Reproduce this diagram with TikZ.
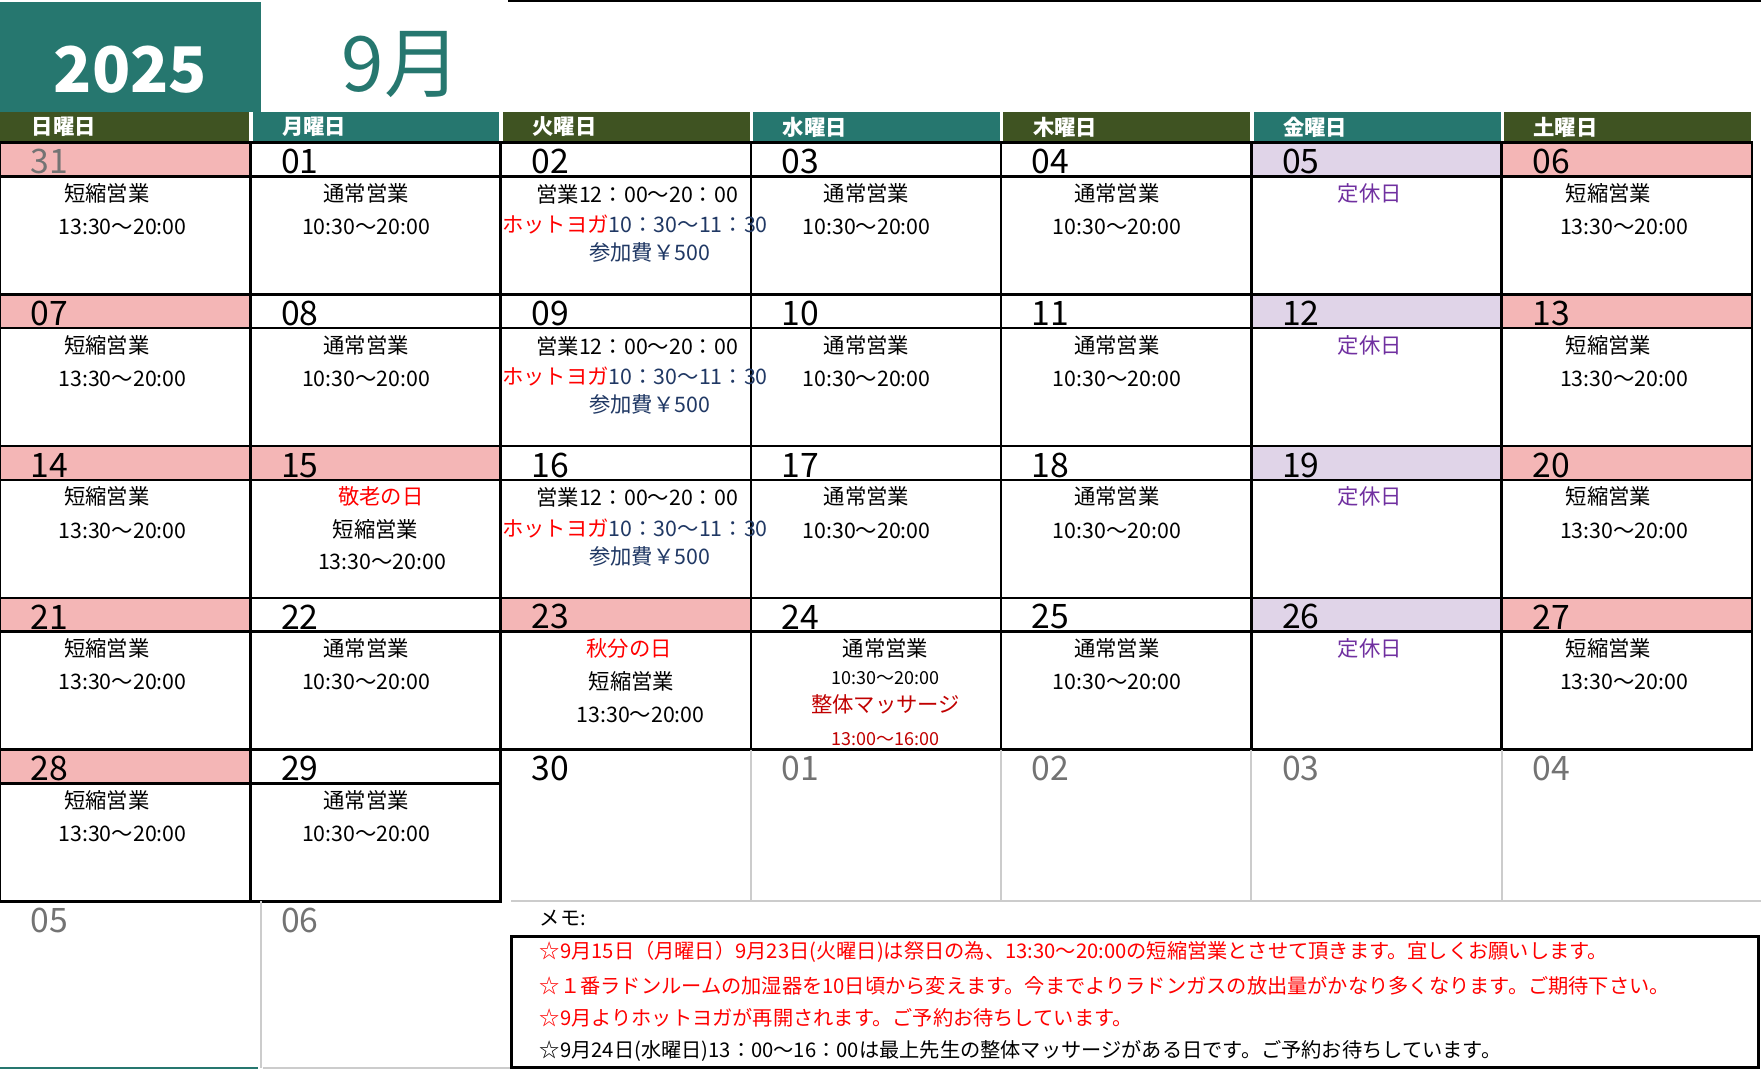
\documentclass[tikz,border=0pt]{standalone}
\usepackage{fontspec}
\setmainfont{Noto Sans CJK JP}
\usetikzlibrary{positioning}
\definecolor{teal}{HTML}{26776F}
\definecolor{olive}{HTML}{3F5322}
\definecolor{holpink}{HTML}{F4B6B6}
\definecolor{offlav}{HTML}{E0D4E8}
\definecolor{navy}{HTML}{203864}
\definecolor{offpur}{HTML}{7030A0}
\definecolor{dred}{HTML}{C00000}

\begin{document}
\begin{tikzpicture}[x=0.5pt,y=-0.5pt,
	grid/.style={draw=black,line width=1.1pt},
	soft/.style={draw=black!20,line width=0.8pt},
	daynum/.style={anchor=west,font=\fontsize{15}{15}\selectfont,inner sep=0pt},
	outnum/.style={daynum,text=black!55},
	body/.style={font=\fontsize{9.5}{10}\selectfont,inner sep=0pt},
	wday/.style={anchor=west,text=white,font=\fontsize{9.5}{10}\selectfont\bfseries,inner sep=0pt},
	memo/.style={anchor=west,font=\fontsize{9}{10}\selectfont,inner sep=0pt,text=red}]

	\useasboundingbox (0,0) rectangle (1567,953);

	% title
	\fill[teal] (0,2) rectangle (232,100);
	\node (year) [text=white,font=\fontsize{28}{28}\selectfont\bfseries] at (116,62) {2025};
	\node (month) [text=teal,font=\fontsize{34}{34}\selectfont] at (357,57) {9月};
	\draw[line width=1.2pt] (452,1) -- (1567,1);

	% weekday header
	\foreach \c/\wdname/\col in {0/日曜日/olive,1/月曜日/teal,2/火曜日/olive,3/水曜日/teal,4/木曜日/olive,5/金曜日/teal,6/土曜日/olive}{
		\fill[\col] ({\c*222.7+(\c>0?2:0)},100) rectangle ({(\c+1)*222.7-1},126);
		\node[wday] (wd\c) at ({\c*222.7+28},113) {\wdname};
	}

	% colored number bands
	\foreach \c/\r/\col in {0/0/holpink,0/1/holpink,0/2/holpink,0/3/holpink,0/4/holpink,
		6/0/holpink,6/1/holpink,6/2/holpink,6/3/holpink,1/2/holpink,2/3/holpink,
		5/0/offlav,5/1/offlav,5/2/offlav,5/3/offlav}
		\fill[\col] ({\c*222.7},{127+\r*135}) rectangle ({(\c+1)*222.7},{157+\r*135});

	% grid
	\foreach \r in {0,...,3}
		\foreach \c in {0,...,6}{
			\draw[grid] ({\c*222.7},{127+\r*135}) rectangle ({(\c+1)*222.7},{262+\r*135});
			\draw[grid] ({\c*222.7},{157+\r*135}) -- ({(\c+1)*222.7},{157+\r*135});
		}
	\foreach \c in {0,1}{
		\draw[grid] ({\c*222.7},667) rectangle ({(\c+1)*222.7},802);
		\draw[grid] ({\c*222.7},697) -- ({(\c+1)*222.7},697);
	}
	\foreach \c in {3,...,6}
		\draw[soft] ({\c*222.7},667) -- ({\c*222.7},802);
	\draw[soft] (455,802) -- (1567,802);
	\draw[soft] (232,802) -- (232,950);
	\draw[teal,line width=1pt] (0,950) -- (230,950);
	\draw[soft] (234,950) -- (455,950);

	% day numbers
	\foreach \n [count=\i from 0] in {31,01,02,03,04,05,06,07,08,09,10,11,12,13,14,15,16,17,18,19,20,21,22,23,24,25,26,27,28,29,30}{
		\pgfmathtruncatemacro{\c}{mod(\i,7)}
		\pgfmathtruncatemacro{\r}{div(\i,7)}
		\ifnum\i=0
			\node[outnum] (n\i) at ({\c*222.7+27},{\r*135+144}) {\n};
		\else
			\node[daynum] (n\i) at ({\c*222.7+27},{\r*135+144}) {\n};
		\fi
	}
	\foreach \n [count=\i from 31] in {01,02,03,04,05,06}{
		\pgfmathtruncatemacro{\c}{mod(\i,7)}
		\pgfmathtruncatemacro{\r}{div(\i,7)}
		\node[outnum] (n\i) at ({\c*222.7+27},{\r*135+144}) {\n};
	}

	% cell texts
	\foreach \c/\r/\xc in {0/0/0,0/1/0,0/2/0,0/3/0,0/4/0,6/0/6,6/1/6,6/2/6,6/3/6}{
		\node[body] (s\c\r) at ({\xc*222.7+95},{\r*135+172}) {短縮営業};
		\node[body] (st\c\r) at ({\xc*222.7+109},{\r*135+202}) {13:30～20:00};
	}
	\foreach \c/\r in {1/0,1/1,1/3,1/4,3/0,3/1,3/2,4/0,4/1,4/2,4/3}{
		\node[body] (u\c\r) at ({\c*222.7+103},{\r*135+172}) {通常営業};
		\node[body] (ut\c\r) at ({\c*222.7+103},{\r*135+202}) {10:30～20:00};
	}
	\foreach \r in {0,1,2}{
		\node[body] (y\r) at (567,{\r*135+173}) {営業12：00～20：00};
		\node[body] (yh\r) at (565,{\r*135+200}) {\textcolor{red}{ホットヨガ}\textcolor{navy}{10：30～11：30}};
		\node[body,text=navy] (yf\r) at (578,{\r*135+225}) {参加費￥500};
	}
	\foreach \r in {0,...,3}
		\node[body,text=offpur] (off\r) at (1219,{\r*135+172}) {定休日};

	\node[body,text=red] (h15) at (339,442) {敬老の日};
	\node[body] (h15a) at (334,471) {短縮営業};
	\node[body] (h15b) at (340,500) {13:30～20:00};
	\node[body,text=red] (h23) at (560,577) {秋分の日};
	\node[body] (h23a) at (562,606) {短縮営業};
	\node[body] (h23b) at (570,636) {13:30～20:00};
	\node[body] (m24) at (788,577) {通常営業};
	\node[body,font=\fontsize{8}{9}\selectfont] (m24a) at (788,603) {10:30～20:00};
	\node[body,text=dred] (m24b) at (788,627) {整体マッサージ};
	\node[body,text=dred,font=\fontsize{8}{9}\selectfont] (m24c) at (788,658) {13:00～16:00};

	% memo
	\node[memo,text=black] (memo) at (480,817) {メモ:};
	\draw[line width=1.3pt] (455,833) rectangle (1565,950);
	\node[memo] (m1) at (480,847) {☆9月15日（月曜日）9月23日(火曜日)は祭日の為、13:30～20:00の短縮営業とさせて頂きます。宜しくお願いします。};
	\node[memo] (m2) at (480,877) {☆１番ラドンルームの加湿器を10日頃から変えます。今までよりラドンガスの放出量がかなり多くなります。ご期待下さい。};
	\node[memo] (m3) at (480,906) {☆9月よりホットヨガが再開されます。ご予約お待ちしています。};
	\node[memo,text=black] (m4) at (480,935) {☆9月24日(水曜日)13：00～16：00は最上先生の整体マッサージがある日です。ご予約お待ちしています。};
\end{tikzpicture}
\end{document}
